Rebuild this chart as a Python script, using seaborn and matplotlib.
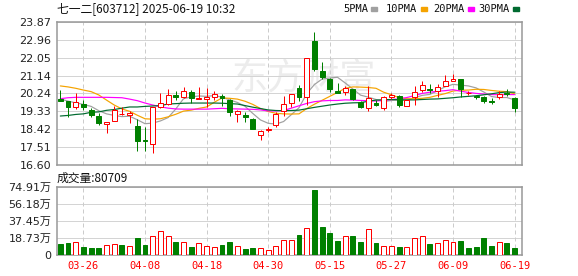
import numpy as np
import pandas as pd
import matplotlib
matplotlib.use("Agg")
import matplotlib.pyplot as plt
from matplotlib.patches import Rectangle
import seaborn as sns

dates = ["03-21", "03-24", "03-25", "03-26", "03-27", "03-28", "03-31", "04-01", "04-02", "04-03",
         "04-07", "04-08", "04-09", "04-10", "04-11", "04-14", "04-15", "04-16", "04-17", "04-18",
         "04-21", "04-22", "04-23", "04-24", "04-25", "04-28", "04-29", "04-30", "05-06", "05-07",
         "05-08", "05-09", "05-12", "05-13", "05-14", "05-15", "05-16", "05-19", "05-20", "05-21",
         "05-22", "05-23", "05-26", "05-27", "05-28", "05-29", "05-30", "06-03", "06-04", "06-05",
         "06-06", "06-09", "06-10", "06-11", "06-12", "06-13", "06-16", "06-17", "06-18", "06-19"]

open_ = [19.96, 19.85, 19.53, 19.72, 19.40, 19.09, 18.68, 18.85, 19.21, 19.13,
         18.58, 17.87, 17.67, 19.53, 19.70, 20.16, 20.04, 20.33, 19.94, 19.97,
         20.04, 20.11, 19.90, 19.18, 19.14, 18.94, 18.13, 18.38, 18.63, 19.35,
         19.74, 20.53, 20.07, 22.90, 21.38, 20.96, 20.38, 20.30, 20.45, 19.82,
         19.48, 19.74, 19.48, 20.04, 20.11, 19.60, 20.04, 20.41, 20.48, 20.38,
         20.63, 20.86, 20.96, 20.24, 20.11, 20.04, 19.84, 20.04, 20.28, 19.99]
high = [20.41, 19.87, 20.25, 19.90, 19.51, 19.23, 18.80, 19.60, 19.56, 19.36,
        18.92, 18.55, 19.53, 20.28, 20.45, 20.38, 20.55, 20.40, 20.55, 20.50,
        20.38, 20.21, 19.96, 19.38, 19.28, 19.00, 18.36, 18.55, 19.28, 20.11,
        20.21, 20.67, 22.02, 23.35, 21.82, 21.00, 20.75, 20.63, 20.47, 19.87,
        20.62, 19.90, 20.10, 20.28, 20.14, 19.92, 20.62, 20.89, 20.72, 20.72,
        21.16, 21.23, 20.96, 20.38, 20.16, 20.12, 19.99, 20.38, 20.45, 20.04]
low = [19.84, 19.06, 19.43, 19.40, 19.03, 18.65, 18.24, 18.85, 19.14, 18.75,
       17.33, 17.33, 17.23, 19.50, 19.65, 19.90, 19.99, 19.77, 19.94, 19.56,
       19.90, 19.60, 19.09, 18.80, 18.80, 18.43, 17.87, 18.26, 18.55, 19.11,
       19.56, 19.85, 19.65, 21.38, 20.97, 20.33, 20.25, 20.16, 19.92, 19.50,
       19.36, 19.60, 19.40, 19.94, 19.56, 19.58, 19.65, 20.33, 20.28, 20.04,
       20.63, 20.86, 20.04, 20.16, 19.97, 19.77, 19.70, 19.94, 20.11, 19.31]
close = [19.87, 19.56, 19.82, 19.53, 19.13, 18.75, 18.79, 19.40, 19.21, 19.26,
         17.84, 17.81, 19.53, 19.74, 20.14, 20.04, 20.38, 19.99, 20.02, 20.04,
         20.21, 19.99, 19.31, 19.35, 19.04, 18.43, 18.34, 18.42, 19.18, 19.69,
         20.19, 20.07, 22.02, 21.48, 21.09, 20.45, 20.28, 20.53, 19.94, 19.53,
         19.99, 19.67, 20.04, 20.16, 19.65, 19.90, 20.33, 20.67, 20.41, 20.58,
         20.89, 20.96, 20.45, 20.24, 20.04, 19.87, 19.80, 20.21, 20.21, 19.48]
volume = [12.2, 13.3, 14.1, 8.9, 7.8, 7.8, 11.1, 11.9, 11.1, 10.0,
          18.9, 11.1, 20.8, 26.3, 20.8, 14.5, 14.1, 8.9, 13.0, 10.0,
          8.9, 11.1, 14.5, 10.0, 6.7, 7.8, 7.8, 5.2, 10.0, 16.3,
          16.3, 22.2, 29.7, 71.2, 31.1, 24.5, 15.6, 20.8, 21.1, 14.5,
          28.5, 13.3, 10.0, 10.0, 8.9, 8.9, 18.9, 21.1, 12.2, 13.3,
          16.3, 14.5, 15.6, 7.8, 8.9, 18.9, 10.0, 14.5, 13.3, 8.07]

ma5 = [19.95, 19.85, 19.76, 19.68, 19.58, 19.36, 19.20, 19.12, 19.06, 19.08,
       18.90, 18.70, 18.73, 18.84, 19.01, 19.45, 19.97, 20.06, 20.11, 20.09,
       20.13, 20.05, 19.91, 19.78, 19.58, 19.22, 18.89, 18.72, 18.68, 18.81,
       19.16, 19.51, 20.23, 20.69, 20.97, 21.02, 21.06, 20.77, 20.46, 20.15,
       20.05, 19.93, 19.83, 19.88, 19.90, 19.88, 20.02, 20.14, 20.19, 20.38,
       20.58, 20.70, 20.66, 20.62, 20.52, 20.31, 20.08, 20.03, 20.03, 19.91]
ma10 = [20.62, 20.57, 20.50, 20.41, 20.33, 20.16, 19.90, 19.65, 19.45, 19.33,
        19.13, 18.95, 18.93, 18.95, 19.05, 19.18, 19.34, 19.39, 19.48, 19.55,
        19.79, 20.01, 19.99, 19.95, 19.84, 19.68, 19.47, 19.32, 19.23, 19.20,
        19.19, 19.20, 19.47, 19.69, 19.89, 20.09, 20.29, 20.50, 20.57, 20.56,
        20.54, 20.50, 20.30, 20.17, 20.02, 19.97, 19.97, 19.99, 20.04, 20.14,
        20.23, 20.36, 20.40, 20.41, 20.45, 20.44, 20.39, 20.35, 20.33, 20.22]
ma20 = [19.97, 20.02, 20.04, 20.04, 20.04, 20.04, 20.04, 20.03, 20.02, 19.95,
        19.87, 19.75, 19.65, 19.56, 19.49, 19.45, 19.44, 19.44, 19.44, 19.44,
        19.46, 19.48, 19.46, 19.45, 19.44, 19.43, 19.40, 19.35, 19.35, 19.37,
        19.49, 19.61, 19.73, 19.82, 19.86, 19.88, 19.88, 19.91, 19.90, 19.88,
        19.87, 19.85, 19.89, 19.93, 19.96, 20.03, 20.13, 20.24, 20.30, 20.35,
        20.38, 20.43, 20.35, 20.29, 20.24, 20.21, 20.18, 20.17, 20.18, 20.18]
ma30 = [19.09, 19.12, 19.17, 19.20, 19.28, 19.30, 19.38, 19.42, 19.49, 19.55,
        19.55, 19.58, 19.60, 19.62, 19.70, 19.72, 19.74, 19.75, 19.75, 19.75,
        19.75, 19.74, 19.72, 19.70, 19.62, 19.54, 19.47, 19.40, 19.37, 19.36,
        19.37, 19.39, 19.46, 19.53, 19.59, 19.65, 19.70, 19.74, 19.76, 19.77,
        19.84, 19.90, 19.92, 19.93, 19.92, 19.91, 19.91, 19.93, 19.95, 19.96,
        19.99, 20.02, 20.06, 20.09, 20.12, 20.17, 20.22, 20.28, 20.31, 20.30]

price_ticks = [16.60, 17.51, 18.42, 19.33, 20.24, 21.14, 22.05, 22.96, 23.87]
vol_ticks = [0, 18.73, 37.45, 56.18, 74.91]
vol_tick_labels = ["0", "18.73万", "37.45万", "56.18万", "74.91万"]
label_dates = ["03-26", "04-08", "04-18", "04-30", "05-15", "05-27", "06-09", "06-19"]
title = "七一二[603712] 2025-06-19 10:32"
vol_title = "成交量:80709"
ma_names = ["5PMA", "10PMA", "20PMA", "30PMA"]

sns.set_style("white")
plt.rcParams["font.family"] = ["DejaVu Sans", "Noto Sans CJK SC"]

PX = 0.72  # one pixel in points at 100 dpi
RED = "#ff0000"
GREEN = "#008000"
ma_colors = ["#a0a0a0", "#f5a300", "#ff00ff", "#006a30"]

df = pd.DataFrame({"date": dates, "open": open_, "high": high, "low": low,
                   "close": close, "volume": volume,
                   "ma5": ma5, "ma10": ma10, "ma20": ma20, "ma30": ma30})
df["idx"] = np.arange(len(df))

o = df["open"].to_numpy(); c = df["close"].to_numpy()
prev = np.r_[o[0], c[:-1]]
up = c >= o
cand_col = np.where(up, RED, GREEN)
vol_up = np.where(c > o, True, np.where(c < o, False, c >= prev))
vol_col = np.where(vol_up, RED, GREEN)

W, H = 578, 276
fig = plt.figure(figsize=(W / 100, H / 100), dpi=100)
L, R = 57, 522
ax = fig.add_axes([L / W, 1 - 165 / H, (R - L) / W, (165 - 22) / H])
axv = fig.add_axes([L / W, 1 - 255 / H, (R - L) / W, (255 - 187) / H])

x = df["idx"].to_numpy()
label_idx = [dates.index(d) for d in label_dates]

# watermark
ax.text(0.53, 0.6, "东方财富", transform=ax.transAxes, fontsize=26, color="#ececec",
        ha="center", va="center", zorder=0, family=["Noto Sans CJK SC"])

# candles
ax.vlines(x, df["low"], df["high"], colors=cand_col, lw=PX, zorder=3)
body_h = np.maximum(np.abs(c - o), 0.004)
ax.bar(x, body_h, bottom=np.minimum(o, c), width=0.64,
       facecolor=list(np.where(up, "white", GREEN)), edgecolor=list(cand_col), lw=PX, zorder=4)

# moving averages
for name, col in zip(["ma5", "ma10", "ma20", "ma30"], ma_colors):
    sns.lineplot(data=df, x="idx", y=name, ax=ax, color=col, lw=PX * 1.2, zorder=2)

# volume
axv.bar(x, df["volume"], width=0.64, facecolor=list(np.where(vol_up, "white", GREEN)),
        edgecolor=list(vol_col), lw=PX, zorder=3)

for a in (ax, axv):
    a.set_xlim(-0.43, 59.96)
    a.set_xlabel(""); a.set_ylabel("")
    for s in a.spines.values():
        s.set_color("#999999"); s.set_linewidth(1.1)
    for i in label_idx:
        a.axvline(i, color="#cccccc", ls=(0, (4, 3)), lw=PX, zorder=1)
    a.yaxis.grid(True, color="#d4d4d4", lw=PX, zorder=1)
    a.set_axisbelow(True)
    a.tick_params(axis="y", length=3, width=PX, color="#999999", labelsize=8,
                  labelcolor="#222222", pad=1)

ax.set_ylim(price_ticks[0], price_ticks[-1])
ax.set_yticks(price_ticks)
ax.set_yticklabels([f"{t:.2f}" for t in price_ticks])
ax.set_xticks([])

axv.set_ylim(0, vol_ticks[-1])
axv.set_yticks(vol_ticks)
axv.set_yticklabels(vol_tick_labels)
axv.set_xticks(label_idx)
axv.set_xticklabels(label_dates, fontsize=7.5, color=RED, family=["DejaVu Sans Mono"])
axv.tick_params(axis="x", length=0, pad=4)

# header
fig.text(L / W, 1 - 9 / H, title, ha="left", va="center", fontsize=8.5, color="#111111",
         family=["Noto Sans CJK SC", "DejaVu Sans"])
fig.text(L / W, 1 - 178 / H, vol_title, ha="left", va="center", fontsize=8.5, color="#111111",
         family=["Noto Sans CJK SC", "DejaVu Sans"])

# legend
leg_x = [343, 386, 433, 478]
for name, col, lx in zip(ma_names, ma_colors, leg_x):
    fig.text(lx / W, 1 - 9 / H, name, ha="left", va="center", fontsize=7.5,
             color="#111111", family=["DejaVu Sans Mono"])
    sq_x = lx + 6.3 * len(name) + 3
    fig.patches.append(Rectangle((sq_x / W, 1 - 11 / H), 6 / W, 4 / H,
                                 transform=fig.transFigure, color=col, figure=fig))

fig.savefig("out.png", dpi=100)
